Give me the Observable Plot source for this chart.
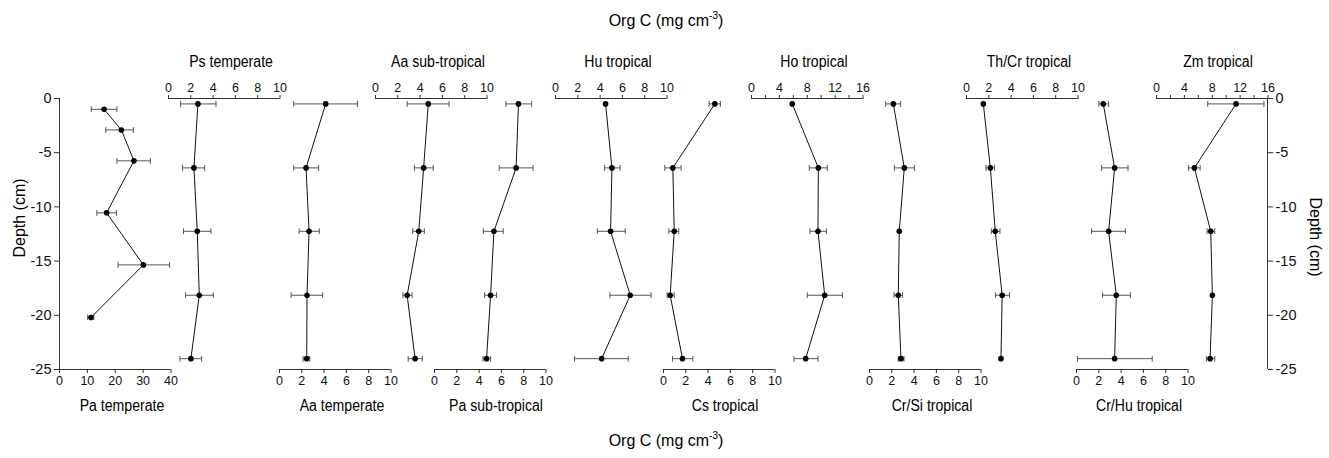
<!DOCTYPE html>
<html><head><meta charset="utf-8">
<script src="https://cdn.jsdelivr.net/npm/d3@7"></script>
<script src="https://cdn.jsdelivr.net/npm/@observablehq/plot@0.6"></script>
<style>
body{margin:0;background:#fff;}
#chart{position:relative;width:1329px;height:458px;overflow:hidden;font-family:"Liberation Sans",Arial,sans-serif;color:#000;}
.lbl{position:absolute;white-space:nowrap;transform:translate(-50%,-50%);}
.ttl{font-size:16px;transform:translate(-50%,-50%) scaleX(0.88);}
.panel{position:absolute;top:0;}
sup{font-size:10px;}
</style></head><body><div id="chart"></div>
<script>
// ---- data ----
const depths = [-0.5, -6.4, -12.25, -18.15, -24];
const paTemperateDepths = [-1, -2.9, -5.75, -10.55, -15.35, -20.2];

const paTemperate   = [16.0, 22.2, 26.7, 16.9, 30.1, 11.3];
const paTemperateLo = [11.4, 16.6, 20.6, 13.4, 21.0, 10.1];
const paTemperateHi = [20.6, 26.5, 32.6, 20.4, 39.5, 12.3];

const psTemperate   = [2.64, 2.28, 2.58, 2.76, 2.01];
const psTemperateLo = [1.08, 1.26, 1.35, 1.53, 1.02];
const psTemperateHi = [4.26, 3.24, 3.81, 4.02, 2.97];

const aaTemperate   = [4.14, 2.38, 2.65, 2.47, 2.44];
const aaTemperateLo = [1.28, 1.28, 1.76, 1.04, 2.11];
const aaTemperateHi = [6.99, 3.51, 3.57, 3.87, 2.71];

const aaSubtropical   = [4.73, 4.32, 3.88, 2.84, 3.55];
const aaSubtropicalLo = [2.84, 3.49, 3.34, 2.46, 2.93];
const aaSubtropicalHi = [6.60, 5.18, 4.38, 3.28, 4.20];

const paSubtropical   = [7.53, 7.32, 5.33, 5.03, 4.67];
const paSubtropicalLo = [6.40, 5.80, 4.38, 4.49, 4.35];
const paSubtropicalHi = [8.72, 8.84, 6.16, 5.57, 5.03];

const huTropical   = [4.49, 5.06, 4.94, 6.70, 4.14];
const huTropicalLo = [4.49, 4.40, 3.75, 4.88, 1.70];
const huTropicalHi = [4.49, 5.80, 6.25, 8.57, 6.52];

const csTropical   = [4.60, 0.84, 0.96, 0.60, 1.70];
const csTropicalLo = [4.09, 0.12, 0.48, 0.33, 0.81];
const csTropicalHi = [5.10, 1.58, 1.37, 0.96, 2.63];

const hoTropical   = [5.85, 9.59, 9.54, 10.50, 7.77];
const hoTropicalLo = [5.85, 8.29, 8.39, 8.00, 6.09];
const hoTropicalHi = [5.85, 10.88, 10.74, 13.05, 9.54];

const crSiTropical   = [2.14, 3.12, 2.67, 2.58, 2.82];
const crSiTropicalLo = [1.45, 2.23, 2.67, 2.20, 2.58];
const crSiTropicalHi = [2.79, 4.04, 2.67, 2.97, 3.09];

const thCrTropical   = [1.51, 2.14, 2.58, 3.20, 3.09];
const thCrTropicalLo = [1.51, 1.75, 2.23, 2.61, 3.09];
const thCrTropicalHi = [1.51, 2.52, 3.00, 3.86, 3.09];

const crHuTropical   = [2.40, 3.42, 2.88, 3.57, 3.42];
const crHuTropicalLo = [2.00, 2.25, 1.35, 2.34, 0.09];
const crHuTropicalHi = [2.88, 4.62, 4.38, 4.83, 6.79];

const zmTropical   = [11.41, 5.44, 7.78, 8.02, 7.69];
const zmTropicalLo = [7.35, 4.58, 7.26, 8.02, 7.16];
const zmTropicalHi = [15.42, 6.26, 8.36, 8.02, 8.36];

const depthTicks = [0, -5, -10, -15, -20, -25];
const ticks10 = [0, 2, 4, 6, 8, 10];
const ticks16 = [0, 2, 4, 6, 8, 10, 12, 14, 16];
const ticks16Labels = [0, 4, 8, 12, 16];
const ticks40 = [0, 10, 20, 30, 40];

// ---- panels (data + layout) ----
const panels = [
  {title: "Pa temperate",    d: paTemperateDepths, v: paTemperate, lo: paTemperateLo, hi: paTemperateHi, max: 40, ticks: ticks40, side: "bottom", x0: 59},
  {title: "Ps temperate",    d: depths, v: psTemperate, lo: psTemperateLo, hi: psTemperateHi, max: 10, ticks: ticks10, side: "top", x0: 168.3},
  {title: "Aa temperate",    d: depths, v: aaTemperate, lo: aaTemperateLo, hi: aaTemperateHi, max: 10, ticks: ticks10, side: "bottom", x0: 279},
  {title: "Aa sub-tropical", d: depths, v: aaSubtropical, lo: aaSubtropicalLo, hi: aaSubtropicalHi, max: 10, ticks: ticks10, side: "top", x0: 375},
  {title: "Pa sub-tropical", d: depths, v: paSubtropical, lo: paSubtropicalLo, hi: paSubtropicalHi, max: 10, ticks: ticks10, side: "bottom", x0: 433.7},
  {title: "Hu tropical",     d: depths, v: huTropical, lo: huTropicalLo, hi: huTropicalHi, max: 10, ticks: ticks10, side: "top", x0: 555.3},
  {title: "Cs tropical",     d: depths, v: csTropical, lo: csTropicalLo, hi: csTropicalHi, max: 10, ticks: ticks10, side: "bottom", x0: 662.7},
  {title: "Ho tropical",     d: depths, v: hoTropical, lo: hoTropicalLo, hi: hoTropicalHi, max: 16, ticks: ticks16, labels: ticks16Labels, side: "top", x0: 751},
  {title: "Cr/Si tropical",  d: depths, v: crSiTropical, lo: crSiTropicalLo, hi: crSiTropicalHi, max: 10, ticks: ticks10, side: "bottom", x0: 869},
  {title: "Th/Cr tropical",  d: depths, v: thCrTropical, lo: thCrTropicalLo, hi: thCrTropicalHi, max: 10, ticks: ticks10, side: "top", x0: 966},
  {title: "Cr/Hu tropical",  d: depths, v: crHuTropical, lo: crHuTropicalLo, hi: crHuTropicalHi, max: 10, ticks: ticks10, side: "bottom", x0: 1076.3},
  {title: "Zm tropical",     d: depths, v: zmTropical, lo: zmTropicalLo, hi: zmTropicalHi, max: 16, ticks: ticks16, labels: ticks16Labels, side: "top", x0: 1155.7}
];

const H = 458, MT = 98, MB = 89, PW = 111.5, PM = 14;
const chart = document.getElementById("chart");
const axisColor = "#333";

function place(el, left) {
  el.classList.add("panel");
  el.style.left = left + "px";
  el.style.background = "transparent";
  el.style.overflow = "visible";
  chart.appendChild(el);
}
function label(html, x, y, cls, extra) {
  const div = document.createElement("div");
  div.className = "lbl " + (cls || "");
  div.innerHTML = html;
  div.style.left = x + "px";
  div.style.top = y + "px";
  if (extra) Object.assign(div.style, extra);
  chart.appendChild(div);
}

for (const p of panels) {
  const rows = p.v.map((v, i) => ({d: p.d[i], v, lo: p.lo[i], hi: p.hi[i]}));
  const errRows = rows.filter(r => r.hi - r.lo > 0.05);
  const labelSet = p.labels ? new Set(p.labels) : null;
  const svg = Plot.plot({
    width: PW + 2 * PM, height: H,
    marginLeft: PM, marginRight: PM, marginTop: MT, marginBottom: MB,
    style: {background: "transparent", overflow: "visible", fontFamily: "'Liberation Sans', Arial, sans-serif"},
    x: {domain: [0, p.max]},
    y: {domain: [-25, 0], axis: null},
    marks: [
      Plot.ruleY([p.side === "top" ? 0 : -25], {stroke: axisColor, strokeWidth: 1}),
      Plot.axisX({anchor: p.side, ticks: p.ticks, tickSize: 4, tickPadding: 3, fontSize: 12.5, stroke: axisColor, fill: "#111",
        tickFormat: d => (labelSet && !labelSet.has(d)) ? "" : String(d), label: null}),
      Plot.link(errRows, {x1: "lo", x2: "hi", y1: "d", y2: "d", stroke: "#555", strokeWidth: 1, markerStart: "tick", markerEnd: "tick"}),
      Plot.line(rows, {x: "v", y: "d", stroke: "#111", strokeWidth: 1}),
      Plot.dot(rows, {x: "v", y: "d", r: 2.8, fill: "#000", stroke: "none"})
    ]
  });
  place(svg, p.x0 - PM);
  const cx = p.x0 + PW / 2 + 7;
  label(p.title, cx, p.side === "top" ? 62 : 406, "ttl");
}

// Depth axes
function depthAxis(anchor) {
  return Plot.plot({
    width: 70, height: H,
    marginLeft: anchor === "left" ? 59 : 10, marginRight: anchor === "left" ? 10 : 59,
    marginTop: MT, marginBottom: MB,
    style: {background: "transparent", overflow: "visible", fontFamily: "'Liberation Sans', Arial, sans-serif"},
    x: {domain: [0, 1], axis: null},
    y: {domain: [-25, 0], axis: null},
    marks: [
      Plot.ruleX([anchor === "left" ? 0 : 1], {stroke: axisColor}),
      Plot.axisY({anchor, ticks: depthTicks, tickSize: 5, tickPadding: 3, fontSize: 14.5, stroke: axisColor, fill: "#111",
        tickFormat: d => String(d), label: null})
    ]
  });
}
place(depthAxis("left"), 0);
place(depthAxis("right"), 1267 - 11);

label("Depth (cm)", 20, 218, "", {fontSize: "16px", transform: "translate(-50%,-50%) rotate(-90deg)"});
label("Depth (cm)", 1315, 237, "", {fontSize: "16px", transform: "translate(-50%,-50%) rotate(90deg)"});
label("Org C (mg cm<sup>-3</sup>)", 666, 20, "", {fontSize: "16px"});
label("Org C (mg cm<sup>-3</sup>)", 666, 440, "", {fontSize: "16px"});
</script></body></html>
